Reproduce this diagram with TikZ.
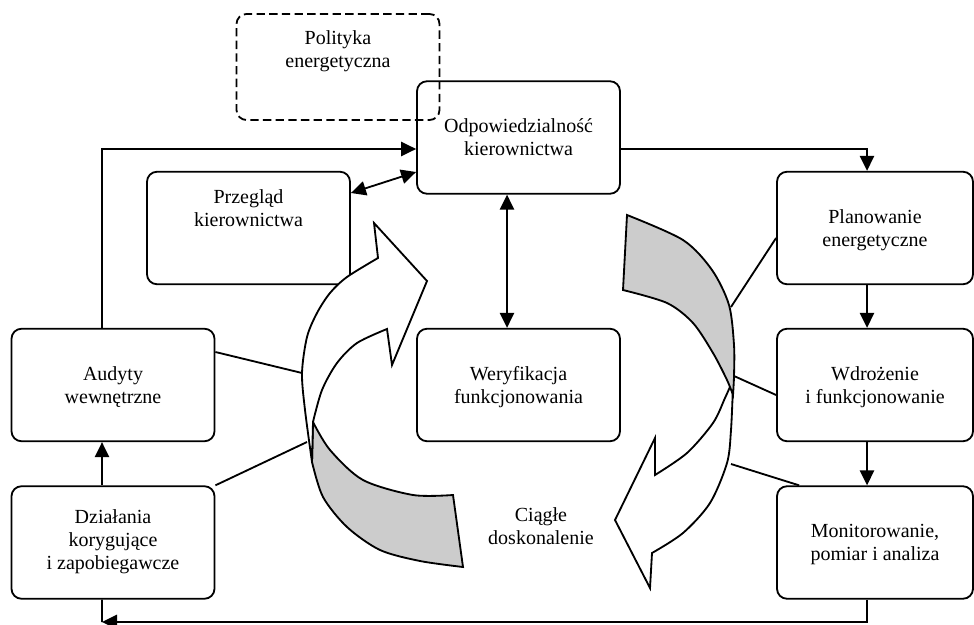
\documentclass[tikz,border=0pt]{standalone}
\usepackage{fontspec}
\setmainfont{Liberation Serif}
\usetikzlibrary{arrows.meta}

\begin{document}
\begin{tikzpicture}[x=0.6pt,y=-0.6pt,
        box/.style={draw,line width=1.1pt,rounded corners=6pt,minimum width=121.8pt,
            minimum height=67.5pt,align=center,text depth=-5.5pt,font=\fontsize{12}{13.8}\selectfont},
        narrow/.style={minimum width=117.6pt},
        lift/.style={text depth=#1},
        arr/.style={-{Triangle[length=9pt,width=8.6pt]},line width=1.1pt},
        twoway/.style={{Triangle[length=9pt,width=8.6pt]}-{Triangle[length=9pt,width=8.6pt]},line width=1.1pt},
        link/.style={line width=1.1pt},
        ribbon/.style={draw,line width=1.1pt,line join=miter}]
    \useasboundingbox (0,0) rectangle (974,625);

    % boxes
    \node[box,dashed,dash pattern=on 5pt off 2.6pt,minimum height=63.6pt,lift=22pt] (pol) at (338,67) {Polityka\\energetyczna};
    \node[box,lift=-3pt] (odp) at (518.5,137.5) {Odpowiedzialność\\kierownictwa};
    \node[box,lift=24pt] (prz) at (248.5,228) {Przegląd\\kierownictwa};
    \node[box,narrow] (pla) at (875,228) {Planowanie\\energetyczne};
    \node[box] (aud) at (113,385) {Audyty\\wewnętrzne};
    \node[box] (wer) at (518.5,385) {Weryfikacja\\funkcjonowania};
    \node[box,narrow] (wdr) at (875,385) {Wdrożenie\\i funkcjonowanie};
    \node[box,lift=3pt] (dzi) at (113,542.5) {Działania\\korygujące\\i zapobiegawcze};
    \node[box,narrow] (mon) at (875,542.5) {Monitorowanie,\\pomiar i analiza};
    \node[align=center,font=\fontsize{12}{13.8}\selectfont] (cd) at (541,526) {Ciągłe\\doskonalenie};

    % main loop
    \draw[arr] ([xshift=-6.6pt]aud.north) |- ([yshift=-6.9pt]odp.west);
    \draw[twoway] ([yshift=21pt]prz.east) -- ([yshift=-20.7pt]odp.west);
    \draw[twoway] ([xshift=-6.9pt]odp.south) -- ([xshift=-6.9pt]wer.north);
    \draw[arr] ([yshift=-6.9pt]odp.east) -| ([xshift=-4.8pt]pla.north);
    \draw[arr] ([xshift=-4.8pt]pla.south) -- ([xshift=-4.8pt]wdr.north);
    \draw[arr] ([xshift=-4.8pt]wdr.south) -- ([xshift=-4.8pt]mon.north);
    \coordinate (low) at (102,622);
    \draw[arr] ([xshift=-4.8pt]mon.south) |- (low);
    \draw[link] ([xshift=-6.6pt]dzi.south) -- (low);
    \draw[arr] ([xshift=-6.6pt]dzi.north) -- ([xshift=-6.6pt]aud.south);

    % ties to the ribbons
    \coordinate (lA) at (302,373);
    \coordinate (lD) at (307,442);
    \coordinate (rP) at (731,307);
    \coordinate (rW) at (734,376);
    \coordinate (rM) at (731,464);
    \draw[link] ([yshift=19.8pt]aud.east) -- (lA);
    \draw[link] (dzi.north east) -- (lD);
    \draw[link] ([yshift=-6pt]pla.west) -- (rP);
    \draw[link] ([yshift=-6pt]wdr.west) -- (rW);
    \draw[link] ([xshift=13.8pt]mon.north west) -- (rM);

    % left ribbon
    \draw[ribbon,fill=gray!40] plot[smooth] coordinates {(313,422) (330,450) (363,480) (413,495) (453,495)}
        -- (463,567) -- plot[smooth] coordinates {(463,567) (420,561) (380,550) (347,527) (323,497) (312,462)} -- cycle;
    \draw[ribbon,fill=white] (427,281) -- (374,223) -- (378,258)
        -- plot[smooth] coordinates {(378,258) (347,277) (330,293) (317,313) (307,337) (302,373) (305,410) (312,462)}
        -- plot[smooth] coordinates {(313,422) (322,390) (337,363) (357,343) (387,329)}
        -- (392,365) -- cycle;

    % right ribbon
    \draw[ribbon,fill=white] plot[smooth] coordinates {(733,385) (731,430) (727,463) (710,503) (683,533) (652,553)}
        -- (650,588) -- (615,520) -- (655,438) -- (655,475)
        -- plot[smooth] coordinates {(655,475) (687,453) (713,423) (725,398) (733,380)} -- cycle;
    \draw[ribbon,fill=gray!40] plot[smooth] coordinates {(627,215) (683,240) (712,270) (729,305) (734,345) (734,376) (733,395)}
        -- plot[smooth] coordinates {(733,395) (727,380) (713,353) (693,323) (667,303) (623,290)} -- cycle;
\end{tikzpicture}
\end{document}
